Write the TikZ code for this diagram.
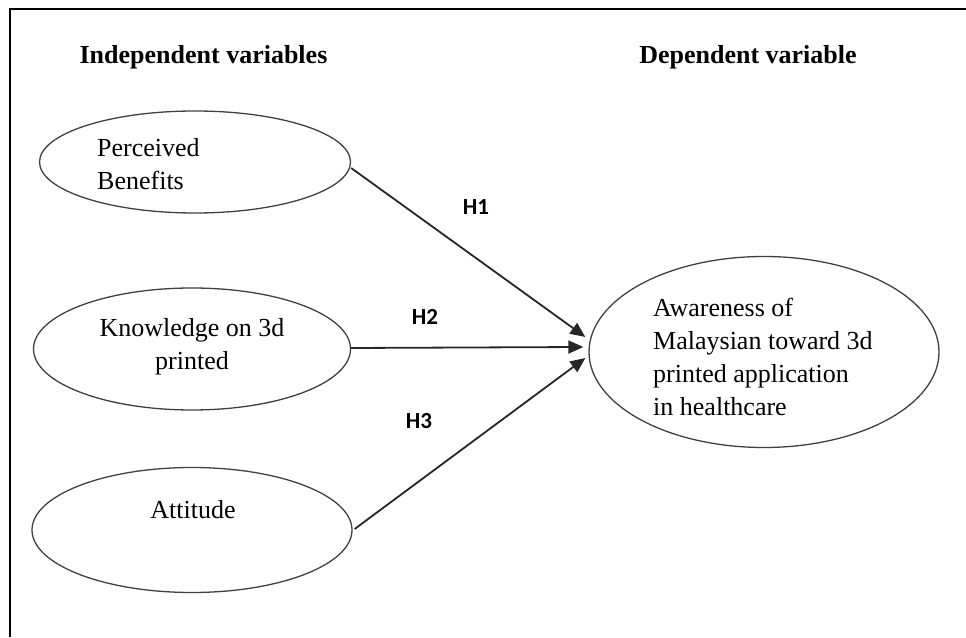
\documentclass[tikz,border=0pt]{standalone}
\usepackage{fontspec}
\setmainfont{Liberation Serif}
\newfontfamily\hfont{Carlito}
\usetikzlibrary{shapes.geometric,arrows.meta}
\tikzset{
  var/.style={draw=black!75,line width=1.3pt,ellipse,inner sep=0pt},
  txt/.style={inner sep=0pt,font=\fontsize{26}{33}\selectfont},
  head/.style={inner sep=0pt,font=\fontsize{26}{33}\selectfont\bfseries},
  hyp/.style={inner sep=0pt,font=\hfont\fontsize{23}{26}\selectfont\bfseries},
  link/.style={draw=black!85,line width=1.8pt,-{Triangle[length=15pt,width=13pt]}}
}
\begin{document}
\begin{tikzpicture}[x=1pt,y=1pt]
\useasboundingbox (0,0) rectangle (966,637);
\coordinate (fl) at (10,0);
\coordinate (fc) at (10,627.5);
\coordinate (fr) at (966,627.5);
\draw[line width=2pt] (fl) -- (fc) -- (fr);
\node[head] (hi) at (203.5,580) {Independent variables};
\node[head] (hd) at (748,580) {Dependent variable};
\node[var,minimum width=311pt,minimum height=102pt] (e1) at (195,475) {};
\node[var,minimum width=317pt,minimum height=122pt] (e2) at (192,288) {};
\node[var,minimum width=320pt,minimum height=125pt] (e3) at (192,107) {};
\node[var,minimum width=350pt,minimum height=191pt] (e4) at (764,285) {};
\node[txt,align=left,anchor=west] (t1) at (97,472.5) {Perceived\\Benefits};
\node[txt,align=center] (t2) at (192,290) {Knowledge on 3d\\printed};
\node[txt] (t3) at (193,127) {Attitude};
\node[txt,align=left,anchor=west] (t4) at (653,280) {Awareness of\\Malaysian toward 3d\\printed application\\in healthcare};
\coordinate (a1) at ([xshift=-3pt,yshift=15pt]e4.west);
\coordinate (a2) at ([xshift=-5pt,yshift=5pt]e4.west);
\coordinate (a3) at ([xshift=-3pt,yshift=-6pt]e4.west);
\draw[link] ([yshift=-6pt]e1.east) -- (a1);
\draw[link] ([yshift=1pt]e2.east) -- (a2);
\draw[link] ([xshift=2pt,yshift=1pt]e3.east) -- (a3);
\node[hyp] (h1) at (476,430) {H1};
\node[hyp] (h2) at (425,320) {H2};
\node[hyp] (h3) at (419,216) {H3};
\end{tikzpicture}
\end{document}
